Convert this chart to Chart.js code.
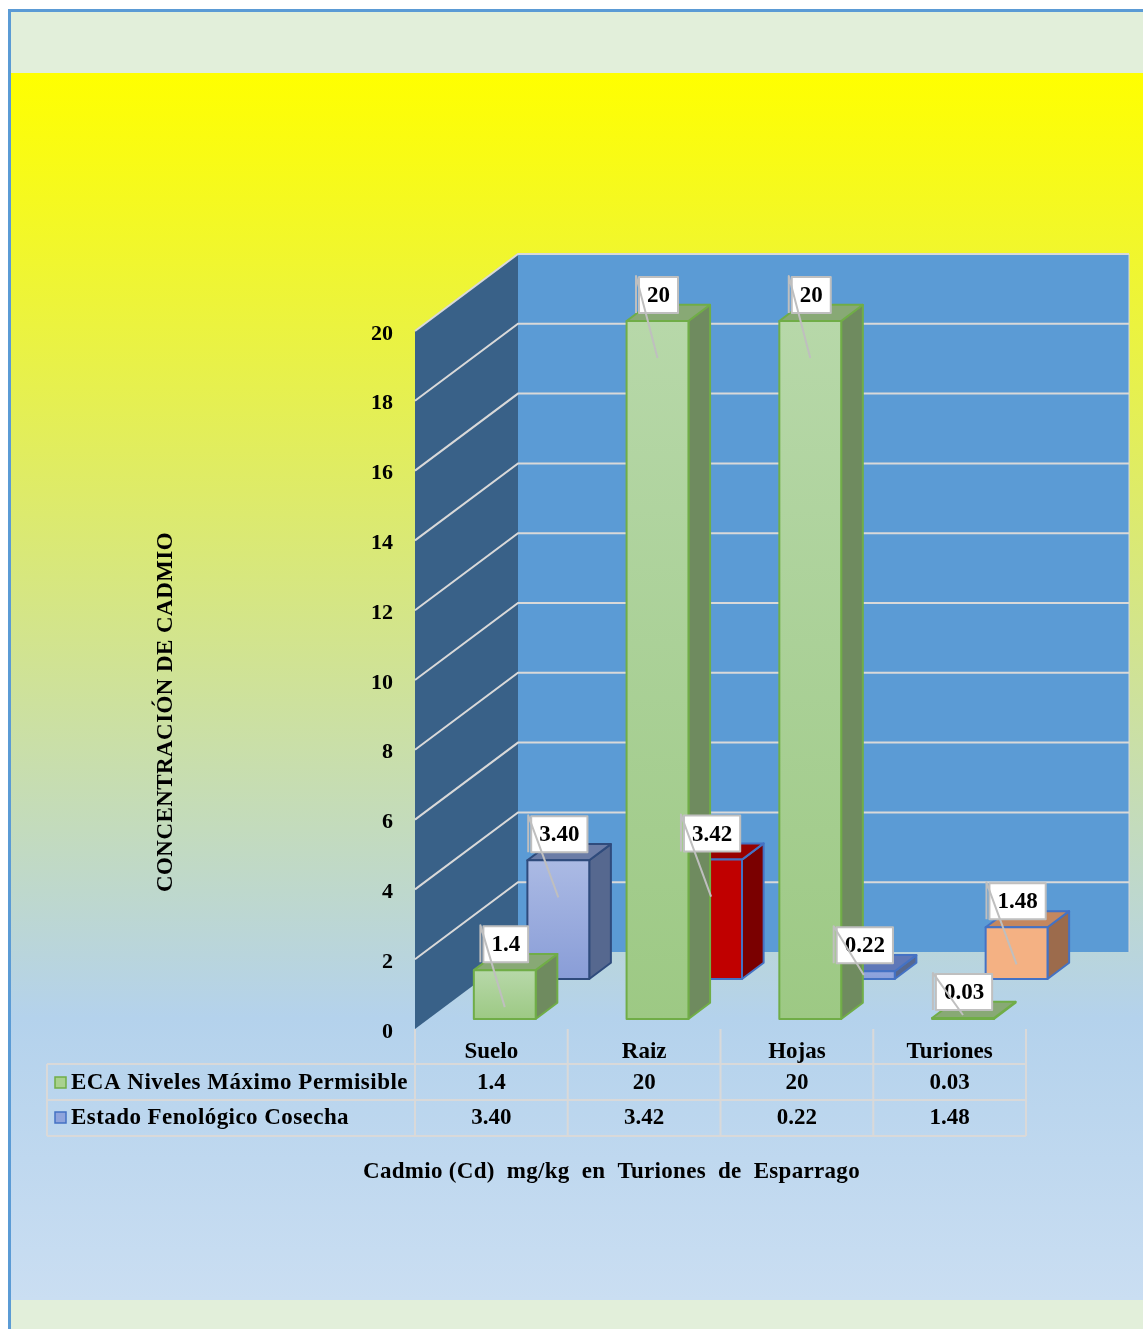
<!DOCTYPE html>
<html>
<head>
<meta charset="utf-8">
<script src="https://cdn.jsdelivr.net/npm/chart.js@4.4.1/dist/chart.umd.min.js"></script>
<style>
  html, body { margin: 0; padding: 0; background: #ffffff; }
  canvas { display: block; }
</style>
</head>
<body>
<canvas id="chart" width="1143" height="1329"></canvas>
<script>
// ---- data ----
const categories = ['Suelo', 'Raiz', 'Hojas', 'Turiones'];
const ecaValues = [1.4, 20, 20, 0.03];
const cosechaValues = [3.40, 3.42, 0.22, 1.48];
const seriesNames = ['ECA Niveles Máximo Permisible', 'Estado Fenológico Cosecha'];
const yTickValues = [0, 2, 4, 6, 8, 10, 12, 14, 16, 18, 20];
const yTitle = 'CONCENTRACIÓN DE CADMIO';
const xTitle = 'Cadmio (Cd)  mg/kg  en  Turiones  de  Esparrago';

// ---- look ----
const FONT = 'Liberation Serif';
const DEPTH = { x: 103, y: -77 };           // full depth of the 3D box
const ROW_FRONT = [0.13, 0.65];             // depth fraction where each series row starts
const BAR_DEPTH = 0.21;                     // depth fraction of one bar
const BAR_WIDTH = 0.405;                    // share of a category slot
const GRID = '#d9d9d9';

const ecaStyle = { front: ['#b7d8a9', '#9dc984'], side: '#6f8b5f', top: '#88a975', border: '#70ad47' };
const cosechaStyles = [
  { front: ['#abbae4', '#899dd7'], side: '#56688f', top: '#6b7ca6', border: '#2f4b7c' },
  { front: ['#c00000', '#c00000'], side: '#7a0000', top: '#980000', border: '#4472c4' },
  { front: ['#91a6de', '#8aa0da'], side: '#56688f', top: '#5f78b8', border: '#4472c4' },
  { front: ['#f4b183', '#f4b183'], side: '#9c6b4c', top: '#c4875f', border: '#4472c4' }
];
const legendMarks = [
  { fill: '#a9d18e', border: '#70ad47' },
  { fill: '#8fa4dc', border: '#4472c4' }
];

const fmtEca = v => String(v);
const fmtCosecha = v => v.toFixed(2);

function bold(size) { return 'bold ' + size + 'px "' + FONT + '"'; }

// draws text spread to a given width, starting at xLeft
function spreadText(ctx, text, xLeft, y, width) {
  ctx.save();
  ctx.textAlign = 'left';
  const natural = ctx.measureText(text).width;
  const gaps = text.length;
  if ('letterSpacing' in ctx) {
    ctx.letterSpacing = ((width - natural) / gaps).toFixed(2) + 'px';
    ctx.fillText(text, xLeft, y);
  } else {
    ctx.translate(xLeft, y);
    ctx.scale(width / natural, 1);
    ctx.fillText(text, 0, 0);
  }
  ctx.restore();
}

function poly(ctx, pts, fill, stroke, lw) {
  ctx.beginPath();
  ctx.moveTo(pts[0][0], pts[0][1]);
  for (let i = 1; i < pts.length; i++) ctx.lineTo(pts[i][0], pts[i][1]);
  ctx.closePath();
  if (fill) { ctx.fillStyle = fill; ctx.fill(); }
  if (stroke) { ctx.strokeStyle = stroke; ctx.lineWidth = lw || 1; ctx.stroke(); }
}

function drawBar(ctx, cx, yTop, yBase, w, style) {
  const x0 = cx - w / 2, x1 = cx + w / 2;
  const dx = DEPTH.x * BAR_DEPTH, dy = DEPTH.y * BAR_DEPTH;
  ctx.lineJoin = 'round';
  poly(ctx, [[x1, yTop], [x1 + dx, yTop + dy], [x1 + dx, yBase + dy], [x1, yBase]], style.side, style.border, 2);
  poly(ctx, [[x0, yTop], [x1, yTop], [x1 + dx, yTop + dy], [x0 + dx, yTop + dy]], style.top, style.border, 2);
  const g = ctx.createLinearGradient(0, yTop, 0, yBase);
  g.addColorStop(0, style.front[0]);
  g.addColorStop(1, style.front[1]);
  poly(ctx, [[x0, yTop], [x1, yTop], [x1, yBase], [x0, yBase]], g, style.border, 2);
}

const scene = {
  id: 'scene3d',
  beforeDraw(chart) {
    const ctx = chart.ctx, W = chart.width, H = chart.height;
    ctx.save();
    ctx.fillStyle = '#ffffff';
    ctx.fillRect(0, 0, W, H);
    ctx.fillStyle = '#5b9bd5';
    ctx.fillRect(8, 9, W - 8, 3);
    ctx.fillRect(8, 9, 3, H - 9);
    ctx.fillStyle = '#e2efda';
    ctx.fillRect(11, 12, W - 11, 61);
    const g = ctx.createLinearGradient(0, 73, 0, 1300);
    g.addColorStop(0, '#ffff00');
    g.addColorStop(0.77, '#b4d2ec');
    g.addColorStop(1, '#cadef2');
    ctx.fillStyle = g;
    ctx.fillRect(11, 73, W - 11, 1227);
    ctx.fillStyle = '#e2efda';
    ctx.fillRect(11, 1300, W - 11, H - 1300);
    ctx.restore();
  },
  beforeDatasetsDraw(chart) {
    const ctx = chart.ctx, xs = chart.scales.x, ys = chart.scales.y, a = chart.chartArea;
    const L = a.left, R = a.right;
    const yBase = ys.getPixelForValue(0), yTop = ys.getPixelForValue(ys.max);
    ctx.save();
    // side wall and back wall
    poly(ctx, [[L, yBase], [L, yTop], [L + DEPTH.x, yTop + DEPTH.y], [L + DEPTH.x, yBase + DEPTH.y]], '#396188');
    poly(ctx, [[L + DEPTH.x, yTop + DEPTH.y], [R + DEPTH.x, yTop + DEPTH.y], [R + DEPTH.x, yBase + DEPTH.y], [L + DEPTH.x, yBase + DEPTH.y]], '#5b9bd5');
    ctx.strokeStyle = GRID;
    ctx.lineWidth = 1;
    ctx.beginPath();
    ctx.moveTo(R + DEPTH.x, yTop + DEPTH.y);
    ctx.lineTo(R + DEPTH.x, yBase + DEPTH.y);
    ctx.stroke();
    // gridlines wrap from the side wall onto the back wall
    ctx.lineWidth = 2;
    yTickValues.forEach(v => {
      if (v === 0) return;
      const py = ys.getPixelForValue(v);
      ctx.beginPath();
      ctx.moveTo(L, py);
      ctx.lineTo(L + DEPTH.x, py + DEPTH.y);
      ctx.lineTo(R + DEPTH.x, py + DEPTH.y);
      ctx.stroke();
    });

    // bars: back row first, then front row
    const slot = xs.getPixelForValue(1) - xs.getPixelForValue(0);
    const w = slot * BAR_WIDTH;
    const rows = [
      { values: cosechaValues, f: ROW_FRONT[1], style: i => cosechaStyles[i], fmt: fmtCosecha },
      { values: ecaValues, f: ROW_FRONT[0], style: () => ecaStyle, fmt: fmtEca }
    ];
    const labels = [];
    rows.forEach(row => {
      row.values.forEach((v, i) => {
        const cx = xs.getPixelForValue(i) + DEPTH.x * row.f;
        const shift = DEPTH.y * row.f;
        const top = ys.getPixelForValue(v) + shift;
        const base = ys.getPixelForValue(0) + shift;
        drawBar(ctx, cx, top, base, w, row.style(i));
        labels.push({ cx, top, base, text: row.fmt(v) });
      });
    });

    // value boxes with leader lines
    ctx.font = bold(23);
    ctx.textBaseline = 'middle';
    ctx.textAlign = 'center';
    labels.forEach(lb => {
      const tw = ctx.measureText(lb.text).width + 16;
      const bh = 36;
      const bx = lb.cx - tw / 2 + 1, by = lb.top - 8 - bh;
      ctx.fillStyle = '#ffffff';
      ctx.fillRect(bx, by, tw, bh);
      ctx.strokeStyle = '#bfbfbf';
      ctx.lineWidth = 2;
      ctx.strokeRect(bx, by, tw, bh);
      ctx.fillStyle = '#000000';
      ctx.fillText(lb.text, bx + tw / 2, by + bh / 2 + 1);
      lb.box = { x: bx, y: by, h: bh };
    });
    ctx.strokeStyle = '#bfbfbf';
    ctx.lineWidth = 2;
    labels.forEach(lb => {
      const lx = lb.box.x - 3, ly = lb.box.y - 1;
      const ey = Math.min(lb.top + 37, lb.base - 4);
      ctx.beginPath();
      ctx.moveTo(lx, lb.box.y + lb.box.h);
      ctx.lineTo(lx, ly);
      ctx.lineTo(lb.cx, ey);
      ctx.stroke();
    });
    ctx.restore();
  },
  afterDraw(chart) {
    const ctx = chart.ctx, xs = chart.scales.x, ys = chart.scales.y, a = chart.chartArea;
    const R = a.right;
    const yBase = ys.getPixelForValue(0);
    const slot = xs.getPixelForValue(1) - xs.getPixelForValue(0);
    const legendLeft = 47;
    const rowLines = [1064, 1100, 1136];
    ctx.save();
    // data table grid
    ctx.strokeStyle = GRID;
    ctx.lineWidth = 2;
    ctx.beginPath();
    rowLines.forEach(y => { ctx.moveTo(legendLeft, y); ctx.lineTo(R, y); });
    ctx.moveTo(legendLeft, rowLines[0]); ctx.lineTo(legendLeft, rowLines[2]);
    for (let i = 0; i <= categories.length; i++) {
      const x = xs.getPixelForValue(i) - slot / 2;
      ctx.moveTo(x, yBase); ctx.lineTo(x, rowLines[2]);
    }
    ctx.stroke();

    ctx.fillStyle = '#000000';
    ctx.textBaseline = 'middle';
    ctx.textAlign = 'center';
    ctx.font = bold(23);
    categories.forEach((c, i) => ctx.fillText(c, xs.getPixelForValue(i), 1052));
    ecaValues.forEach((v, i) => ctx.fillText(fmtEca(v), xs.getPixelForValue(i), 1083));
    cosechaValues.forEach((v, i) => ctx.fillText(fmtCosecha(v), xs.getPixelForValue(i), 1118));

    // legend keys
    const rowMid = [1083, 1118];
    const nameWidths = [337, 278];
    seriesNames.forEach((n, k) => {
      ctx.fillStyle = legendMarks[k].fill;
      ctx.fillRect(55, rowMid[k] - 6, 11, 11);
      ctx.strokeStyle = legendMarks[k].border;
      ctx.lineWidth = 1.5;
      ctx.strokeRect(55, rowMid[k] - 6, 11, 11);
      ctx.fillStyle = '#000000';
      ctx.font = bold(23);
      spreadText(ctx, n, 71, rowMid[k], nameWidths[k]);
    });

    // axis titles
    ctx.font = bold(23);
    ctx.fillStyle = '#000000';
    ctx.save();
    ctx.translate(166, 712);
    ctx.rotate(-Math.PI / 2);
    spreadText(ctx, yTitle, -180, 0, 360);
    ctx.restore();
    spreadText(ctx, xTitle, 363, 1172, 497);
    ctx.restore();
  }
};

new Chart(document.getElementById('chart'), {
  type: 'bar',
  data: {
    labels: categories,
    datasets: [
      { label: seriesNames[0], data: ecaValues, backgroundColor: 'rgba(0,0,0,0)', borderWidth: 0 },
      { label: seriesNames[1], data: cosechaValues, backgroundColor: 'rgba(0,0,0,0)', borderWidth: 0 }
    ]
  },
  options: {
    responsive: false,
    animation: false,
    devicePixelRatio: 1,
    layout: { padding: { left: 355, right: 117, top: 331, bottom: 300 } },
    plugins: { legend: { display: false }, tooltip: { enabled: false } },
    scales: {
      x: { display: false, offset: true },
      y: {
        min: 0,
        max: 20,
        afterBuildTicks: s => { s.ticks = yTickValues.map(v => ({ value: v })); },
        afterFit: s => { s.width = 60; },
        grid: { display: false },
        border: { display: false },
        ticks: { padding: 14, labelOffset: 3, color: '#000000', font: { family: FONT, size: 22, weight: 'bold' } }
      }
    }
  },
  plugins: [scene]
});
</script>
</body>
</html>
